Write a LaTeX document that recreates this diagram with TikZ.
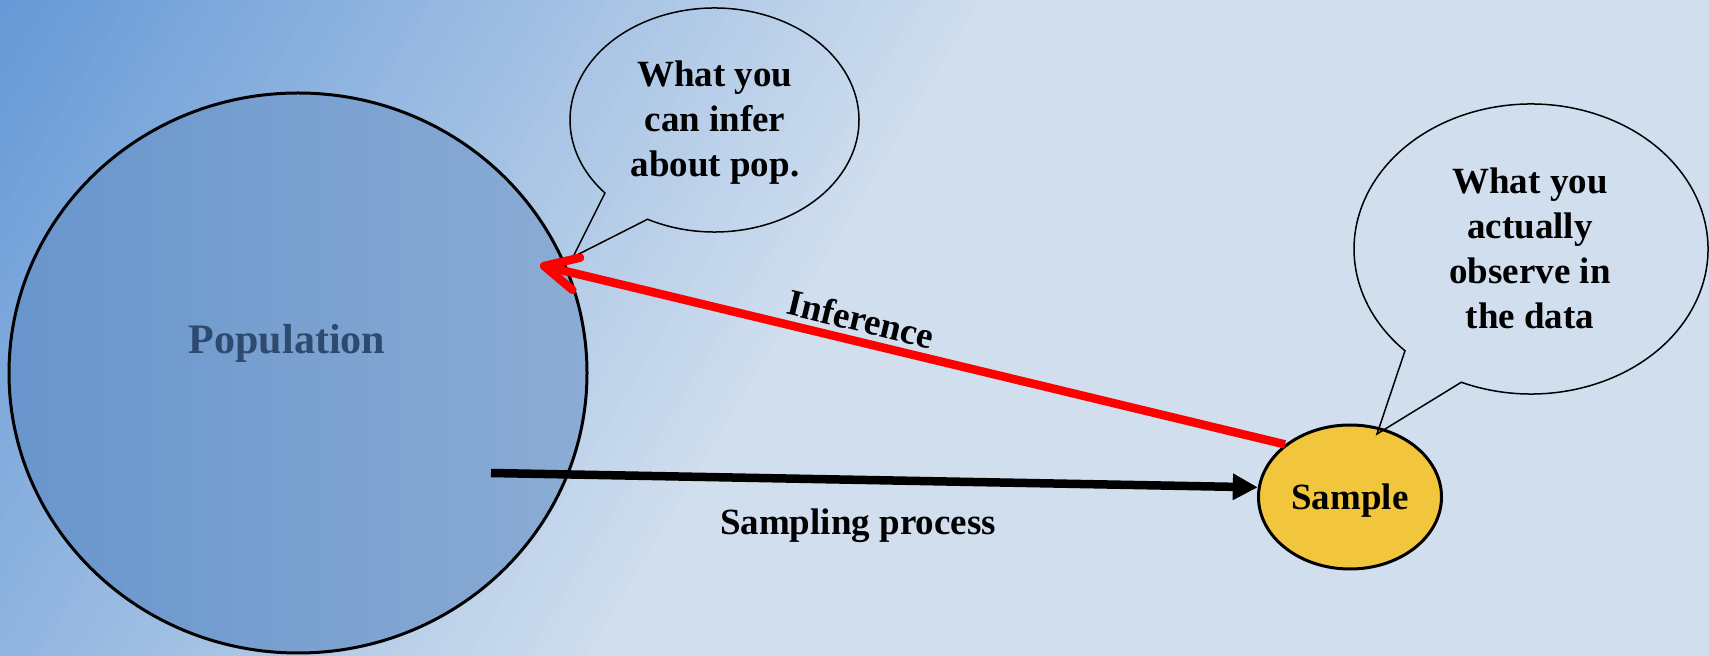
\documentclass[tikz,border=0pt]{standalone}
\usepackage{fontspec}
\setmainfont{Liberation Serif}
\usetikzlibrary{shapes.geometric,arrows.meta}
\definecolor{bgD}{HTML}{6699D6}
\definecolor{bgL}{HTML}{D0DEEE}
\definecolor{popL}{HTML}{6895CC}
\definecolor{popR}{HTML}{8BACD4}
\definecolor{popText}{HTML}{2E4A6F}
\definecolor{sampFill}{HTML}{F2C63C}
\tikzset{
  bubble/.style={draw=black, line width=1.5pt, line join=miter},
  lbl/.style={font=\fontsize{37}{45}\selectfont\bfseries, inner sep=0pt, align=center},
  blob/.style={ellipse, draw=black, line width=3pt, inner sep=0pt},
}
\begin{document}
\begin{tikzpicture}[x=1pt,y=1pt]
\useasboundingbox (0,0) rectangle (1709,656);
% background gradient
\begin{scope}
  \clip (0,0) rectangle (1709,656);
  \begin{scope}[rotate around={-31:(0,656)}]
    \foreach \i in {0,...,84} {
      \pgfmathtruncatemacro\pc{\i*100/84}
      \fill[bgL!\pc!bgD] ({\i*10},-3000) rectangle ({\i*10+11},3000);
    }
    \fill[bgL] (850,-3000) rectangle (4000,3000);
  \end{scope}
\end{scope}
% population
\node[blob, left color=popL, right color=popR, minimum width=578pt, minimum height=560pt] (pop) at (298,283) {};
\node[lbl, text=popText, font=\fontsize{42}{50}\selectfont\bfseries, anchor=base] (poplabel) at (287,302) {Population};
% sample
\node[blob, fill=sampFill, minimum width=183pt, minimum height=144pt, font=\fontsize{37}{44}\selectfont\bfseries, text height=30pt, text depth=4pt] (samp) at (1350,159) {Sample};
% bubbles
\coordinate (c1) at (714.5,536);
\coordinate (t1) at (573,399);
\draw[bubble] ([shift={(242.4:144.5 and 112)}]c1) arc[start angle=242.4, end angle=580.7, x radius=144.5, y radius=112] -- (t1) -- cycle;
\node[lbl] (b1text) at (715,533) {What you\\can infer\\about pop.};
\coordinate (c2) at (1531,407);
\coordinate (t2) at (1377,222);
\draw[bubble] ([shift={(246.8:177 and 145)}]c2) arc[start angle=246.8, end angle=584.6, x radius=177, y radius=145] -- (t2) -- cycle;
\node[lbl] (b2text) at (1530,408) {What you\\actually\\observe in\\the data};
% arrows
\coordinate (sstart) at (491,183);
\draw[line width=8.5pt, -{Triangle[length=25pt, width=25pt]}] (sstart) -- (samp.174);
\coordinate (inftip) at (540,391);
\draw[red, line width=8.5pt, -{Straight Barb[length=33pt, width=33pt, round]}] (samp.141) -- (inftip);
% labels
\node[lbl, rotate=-13.6] (inflabel) at (861,337) {Inference};
\node[lbl, anchor=base] (samplabel) at (858,121) {Sampling process};
\end{tikzpicture}
\end{document}
